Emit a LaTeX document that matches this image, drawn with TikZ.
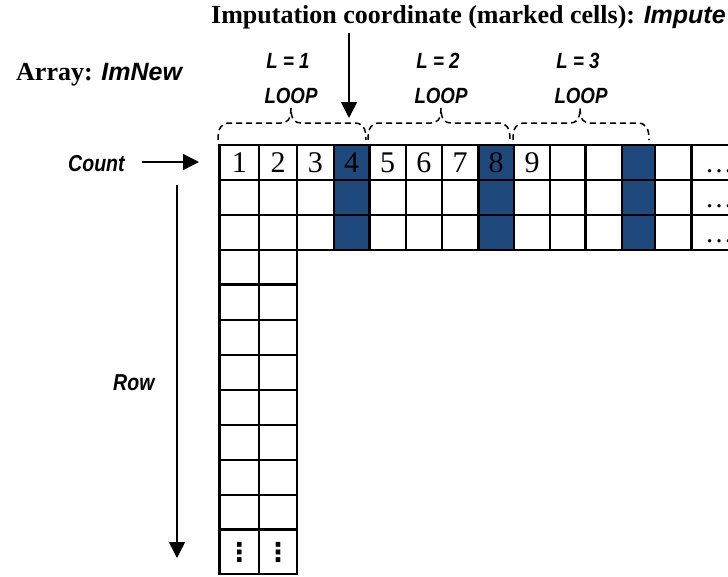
\documentclass[tikz,border=0pt]{standalone}
\usepackage{fontspec}
\setmainfont{Liberation Serif}
\newfontfamily\sbi{Liberation Sans}
\newfontfamily\sbn[FakeStretch=0.85]{Liberation Sans}
\newfontfamily\dvs{DejaVu Sans}
\usetikzlibrary{arrows.meta}
\definecolor{cellblue}{RGB}{31,73,125}
\begin{document}
\begin{tikzpicture}[x=1pt,y=-1pt,
  cell/.style={draw=black, line width=2.4pt, inner sep=0pt, outer sep=0pt},
  num/.style={font=\fontsize{30}{34}\selectfont, inner sep=0pt},
  lab/.style={font=\sbn\bfseries\itshape\fontsize{23}{26}\selectfont, inner sep=0pt},
  loopl/.style={font=\sbn\bfseries\itshape\fontsize{22}{25}\selectfont, inner sep=0pt},
  arr/.style={line width=1.5pt, -{Triangle[length=16pt,width=16pt]}},
  bracedash/.style={line width=1.5pt, dash pattern=on 6pt off 4pt},
]
\useasboundingbox (0,0) rectangle (728,576);
\clip (0,0) rectangle (728,576);

% blue marked columns
\fill[cellblue] (333.7,145) rectangle (369.4,250);
\fill[cellblue] (478.5,145) rectangle (513.8,250);
\fill[cellblue] (621.9,145) rectangle (655.2,250);

% top rows of the array
\foreach \k/\xa/\xb in {1/219.5/259, 2/259/297, 3/297/333.7, 4/333.7/369.4,
  5/369.4/405.7, 6/405.7/441.8, 7/441.8/478.5, 8/478.5/513.8, 9/513.8/550.2,
  10/550.2/585.5, 11/585.5/621.9, 12/621.9/655.2, 13/655.2/691.6, 14/691.6/760}
  \foreach \r/\ya/\yb in {1/145/180, 2/180/215, 3/215/250} {
    \pgfmathsetmacro\w{\xb-\xa}
    \pgfmathsetmacro\h{\yb-\ya}
    \node[cell, minimum width=\w pt, minimum height=\h pt] (c-\r-\k)
      at ({(\xa+\xb)/2},{(\ya+\yb)/2}) {};
  }

% lower two columns
\foreach \k/\xa/\xb in {1/219.5/259, 2/259/297}
  \foreach \r/\ya/\yb in {4/250/284.3, 5/284.3/320, 6/320/355, 7/355/390,
    8/390/425, 9/425/460, 10/460/495, 11/495/529.3, 12/529.3/574} {
    \pgfmathsetmacro\w{\xb-\xa}
    \pgfmathsetmacro\h{\yb-\ya}
    \node[cell, minimum width=\w pt, minimum height=\h pt] (c-\r-\k)
      at ({(\xa+\xb)/2},{(\ya+\yb)/2}) {};
  }

% numbers
\foreach \k in {1,...,9}
  \node[num] (n-\k) at (c-1-\k) {\k};

% horizontal ellipses in the last column
\foreach \r/\yy in {1/172.5, 2/207.5, 3/242.5}
  \node[num, font=\fontsize{28}{30}\selectfont, anchor=base west] (e-\r) at (705,\yy) {…};

% vertical dots
\foreach \k in {1,2}
  \node[inner sep=0pt, font=\dvs\bfseries\fontsize{26}{28}\selectfont] (v-\k) at ([yshift=-1pt]c-12-\k.center) {⋮};

% titles
\node[anchor=base west, inner sep=0pt, font=\bfseries\fontsize{26}{30}\selectfont] (title) at (211,23)
  {Imputation coordinate (marked cells): {\sbi\bfseries\itshape\fontsize{25}{30}\selectfont Impute}};
\node[anchor=base west, inner sep=0pt, font=\bfseries\fontsize{26}{30}\selectfont] (arrayname) at (16,80)
  {Array: {\sbi\bfseries\itshape\fontsize{25}{30}\selectfont ImNew}};

% loop labels
\node[loopl, anchor=base] (L1) at (288,68) {L = 1};
\node[loopl, anchor=base] (L2) at (438,68) {L = 2};
\node[loopl, anchor=base] (L3) at (578,68) {L = 3};
\node[loopl, anchor=base] (P1) at (291,103) {LOOP};
\node[loopl, anchor=base] (P2) at (441,103) {LOOP};
\node[loopl, anchor=base] (P3) at (581,103) {LOOP};

% braces
\foreach \a/\t/\b in {218/291/366, 368/441/510, 513/580/649}
  \draw[bracedash] (\a,140) .. controls (\a,128) and (\a+3,123) .. (\a+12,123)
    -- (\t-10,123) .. controls (\t-4,123) and (\t,120) .. (\t,108)
    .. controls (\t,120) and (\t+4,123) .. (\t+10,123)
    -- (\b-12,123) .. controls (\b-3,123) and (\b,128) .. (\b,140);

% side labels and arrows
\node[lab, anchor=base west] (count) at (68,171) {Count};
\node[lab, anchor=base west] (row) at (113,390) {Row};
\coordinate (countstart) at (142,162);
\coordinate (countend) at (199,162);
\draw[arr] (countstart) -- (countend);
\coordinate (rowstart) at (177,185);
\coordinate (rowend) at (177,558);
\draw[arr] (rowstart) -- (rowend);
\coordinate (impstart) at (349,33);
\coordinate (impend) at (349,118);
\draw[arr] (impstart) -- (impend);
\end{tikzpicture}
\end{document}
